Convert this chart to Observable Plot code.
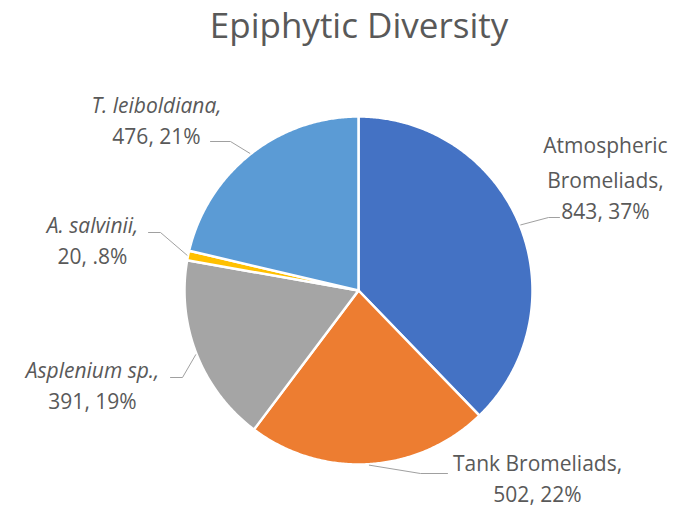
<!DOCTYPE html>
<html><head><meta charset="utf-8">
<script src="https://cdn.jsdelivr.net/npm/d3@7"></script>
<script src="https://cdn.jsdelivr.net/npm/@observablehq/plot@0.6"></script>
<style>body{margin:0;background:#fff;} #chart{width:683px;height:509px;}</style>
</head><body><div id="chart"></div>
<script>
// ---- data ----
const title = "Epiphytic Diversity";
const categories = ["Atmospheric Bromeliads", "Tank Bromeliads", "Asplenium sp.", "A. salvinii", "T. leiboldiana"];
const values = [843, 502, 391, 20, 476];
const percentLabels = ["37%", "22%", "19%", ".8%", "21%"];

// ---- styles & layout ----
const colors = ["#4472C4", "#ED7D31", "#A5A5A5", "#FFC000", "#5B9BD5"];
const italic = [false, false, true, true, true];
const wrapName = [true, false, false, false, false];
// label anchor (value-line baseline centre), px from pie centre, y up
const labelPos = [[247, 72], [179, -211], [-266, -118], [-266, 27], [-202, 147]];
// leader line: [text-side x, y, elbow x], px from pie centre, y up
const leaderEnd = [[201, 73, 190], [89, -183, 62], [-188, -87, -176], [-210, 58, -198], [-148, 149, -128]];

const W = 683, H = 509, CX = 358, CY = 290, R = 174;
const textColor = "#595959";
const font = "Open Sans";

const arcs = d3.pie().sort(null).value(d => d)(values);

const slicePts = [];
arcs.forEach((a, i) => {
  const name = categories[i];
  slicePts.push({name, x: 0, y: 0});
  const n = Math.max(2, Math.ceil((a.endAngle - a.startAngle) / (Math.PI / 360)));
  for (let k = 0; k <= n; k++) {
    const t = a.startAngle + (a.endAngle - a.startAngle) * k / n;
    slicePts.push({name, x: R * Math.sin(t), y: R * Math.cos(t)});
  }
  slicePts.push({name, x: 0, y: 0});
});

const leaderPts = [];
arcs.forEach((a, i) => {
  const mid = (a.startAngle + a.endAngle) / 2;
  const [ex, ey, elx] = leaderEnd[i];
  leaderPts.push({name: categories[i], x: (R + 1) * Math.sin(mid), y: (R + 1) * Math.cos(mid)});
  leaderPts.push({name: categories[i], x: elx, y: ey});
  leaderPts.push({name: categories[i], x: ex, y: ey});
});

const labels = categories.map((c, i) => ({
  name: (wrapName[i] ? c.replace(" ", "\n") : c) + ",",
  value: `${values[i]}, ${percentLabels[i]}`,
  italic: italic[i],
  x: labelPos[i][0],
  y: labelPos[i][1]
}));

const textOpts = {x: "x", y: "y", fontSize: 21, fill: textColor, fontFamily: font, lineAnchor: "bottom", lineHeight: 1.65};

const chart = Plot.plot({
  width: W, height: H, margin: 0,
  style: {fontFamily: font, background: "#fff"},
  x: {domain: [-CX, W - CX], axis: null},
  y: {domain: [CY - H, CY], axis: null},
  color: {domain: categories, range: colors},
  marks: [
    Plot.line(slicePts, {x: "x", y: "y", z: "name", fill: "name", stroke: "#fff", strokeWidth: 2.5, strokeLinejoin: "round"}),
    Plot.line(leaderPts, {x: "x", y: "y", z: "name", stroke: "#a0a0a0", strokeWidth: 1}),
    Plot.text(labels.filter(d => d.italic), {...textOpts, text: "name", dy: -31, fontStyle: "italic"}),
    Plot.text(labels.filter(d => !d.italic), {...textOpts, text: "name", dy: -31}),
    Plot.text(labels, {...textOpts, text: "value"}),
    Plot.text([title], {frameAnchor: "top", lineAnchor: "top", dy: 13, dx: 17, fontSize: 35, fill: textColor, fontFamily: font})
  ]
});
document.getElementById("chart").appendChild(chart);
</script>
</body></html>
